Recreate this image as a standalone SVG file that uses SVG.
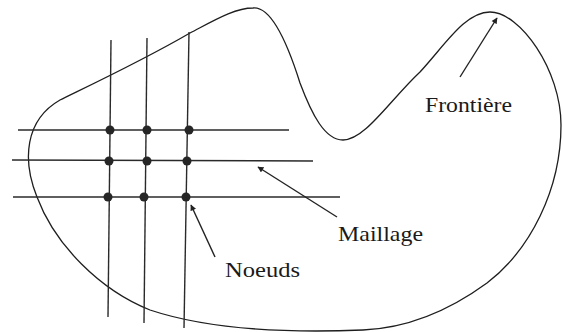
<svg xmlns="http://www.w3.org/2000/svg" width="563" height="332" viewBox="0 0 563 332">
  <style>
    .bd { fill: none; stroke: #1e1e1e; stroke-width: 1.3; }
    .grid { stroke: #2a2a2a; stroke-width: 1.4; fill: none; }
    .node { fill: #262626; }
    .arr { stroke: #222; stroke-width: 1.4; fill: none; marker-end: url(#ah); }
    .lbl { font-size: 21px; fill: #1a1a1a; }
  </style>
  <defs>
    <marker id="ah" viewBox="0 0 10 10" refX="9" refY="5" markerWidth="7" markerHeight="6" markerUnits="userSpaceOnUse" orient="auto">
      <path d="M0,0 L10,5 L0,10 z" fill="#222"/>
    </marker>
  </defs>
  <g id="frontiere-shape">
    <path class="bd" d="M253,8 C272,6 288,45 300,83 C312,115 325,140 343,140 C365,140 390,100 420,72 C445,45 465,12 490,12 C520,12 561,70 561,125 C561,190 530,250 487,283 C450,310 410,328 363,330 C290,333 210,330 150,310 C100,290 55,245 37,197 C22,160 25,120 60,100 C80,90 140,62 190,33 C215,20 235,8 253,8 Z"/>
  </g>
  <g id="maillage-grid">
    <line class="grid" x1="111" y1="40" x2="108" y2="317"/>
    <line class="grid" x1="147" y1="38" x2="144" y2="323"/>
    <line class="grid" x1="189" y1="32" x2="184" y2="328"/>
    <line class="grid" x1="18" y1="130" x2="289" y2="130"/>
    <line class="grid" x1="12" y1="160" x2="313" y2="161"/>
    <line class="grid" x1="13" y1="197" x2="340" y2="197"/>
  </g>
  <g id="noeuds">
    <circle class="node" cx="110" cy="130" r="4.5"/>
    <circle class="node" cx="147" cy="130" r="4.5"/>
    <circle class="node" cx="189" cy="130" r="4.5"/>
    <circle class="node" cx="109" cy="161" r="4.5"/>
    <circle class="node" cx="147" cy="161" r="4.5"/>
    <circle class="node" cx="187" cy="161" r="4.5"/>
    <circle class="node" cx="108" cy="197" r="4.5"/>
    <circle class="node" cx="144" cy="197" r="4.5"/>
    <circle class="node" cx="186" cy="197" r="4.5"/>
  </g>
  <g id="connectors">
    <line class="arr" x1="460" y1="77" x2="497" y2="18"/>
    <line class="arr" x1="337" y1="217" x2="258" y2="167"/>
    <line class="arr" x1="215" y1="257" x2="191" y2="205"/>
  </g>
  <g id="labels" font-family="'Liberation Serif', serif">
    <text class="lbl" x="425" y="112" textLength="87" lengthAdjust="spacingAndGlyphs">Frontière</text>
    <text class="lbl" x="338" y="241" textLength="85" lengthAdjust="spacingAndGlyphs">Maillage</text>
    <text class="lbl" x="225" y="277" textLength="75" lengthAdjust="spacingAndGlyphs">Noeuds</text>
  </g>
</svg>
